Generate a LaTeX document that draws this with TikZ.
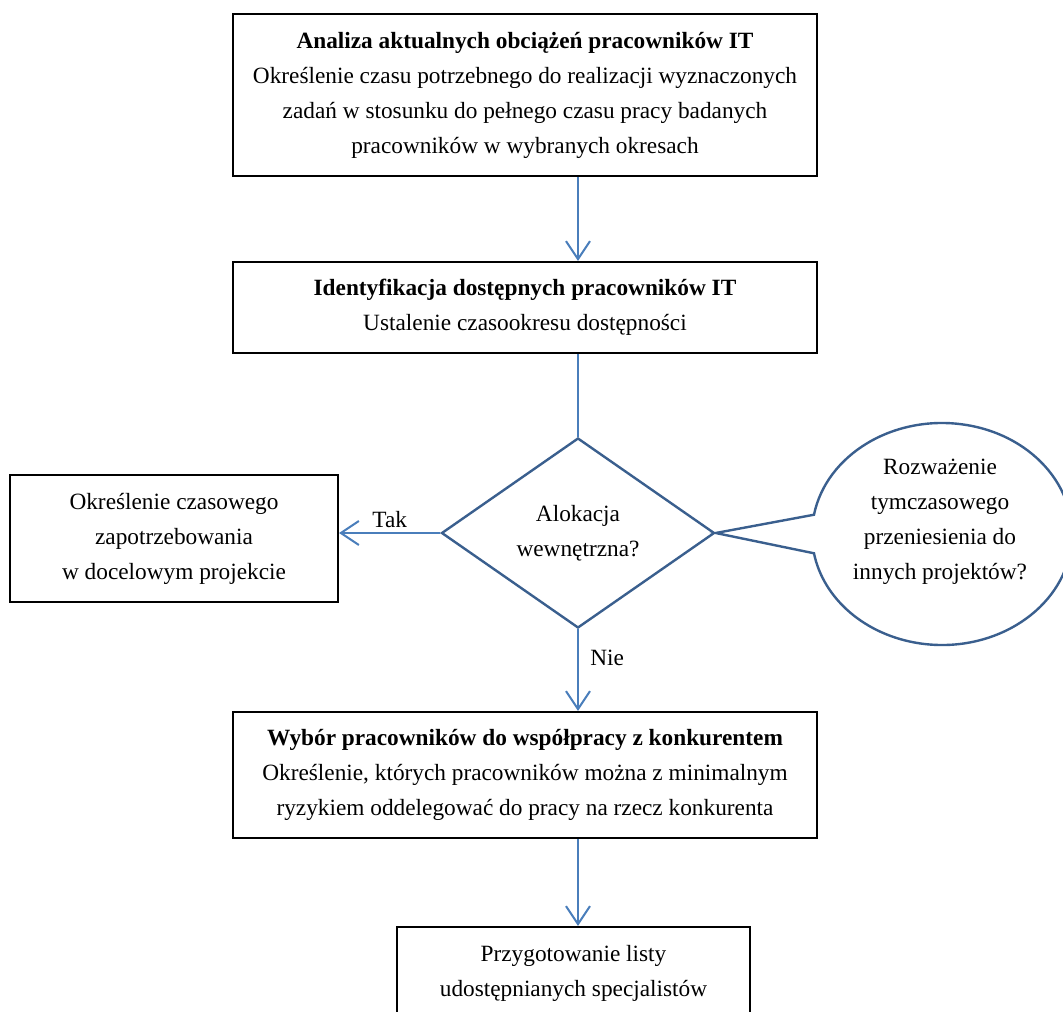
\documentclass[tikz,border=0pt]{standalone}
\usepackage{fontspec}
\setmainfont{Liberation Serif}
\usetikzlibrary{shapes.geometric,arrows.meta,calc}
\definecolor{flowarrow}{HTML}{4A7EBB}
\definecolor{shapeline}{HTML}{3A5F8E}
\begin{document}
\begin{tikzpicture}[x=1pt,y=1pt,
  every node/.style={font=\fontsize{23.3}{35}\selectfont},
  procbox/.style={draw=black,line width=2.2pt,fill=white,rectangle,align=center,inner sep=0pt},
  flow/.style={draw=flowarrow,line width=2pt,-{Straight Barb[length=18pt,width=24pt,line width=2pt]}},
  plainflow/.style={draw=flowarrow,line width=2pt},
  decision/.style={draw=shapeline,line width=2.4pt,diamond,align=center,inner sep=0pt,minimum width=273pt,minimum height=190pt},
  calloutline/.style={draw=shapeline,line width=2.4pt,fill=white,line join=miter}
]
\useasboundingbox (0,0) rectangle (1063,-1012);

% process boxes
\node[procbox,minimum width=584pt,minimum height=162pt] (analiza) at (525,-95)
  {\textbf{Analiza aktualnych obciążeń pracowników IT}\\
   Określenie czasu potrzebnego do realizacji wyznaczonych\\
   zadań w stosunku do pełnego czasu pracy badanych\\
   pracowników w wybranych okresach};
\node[procbox,minimum width=584pt,minimum height=91pt] (ident) at (525,-307.5)
  {\textbf{Identyfikacja dostępnych pracowników IT}\\
   Ustalenie czasookresu dostępności};
\node[decision] (alok) at (578,-533) {Alokacja\\wewnętrzna?};
\node[procbox,minimum width=328pt,minimum height=127pt] (zapotrz) at (174,-538.5)
  {Określenie czasowego\\zapotrzebowania\\w docelowym projekcie};
\node[procbox,minimum width=584pt,minimum height=126pt] (wybor) at (525,-775)
  {\textbf{Wybór pracowników do współpracy z konkurentem}\\
   Określenie, których pracowników można z minimalnym\\
   ryzykiem oddelegować do pracy na rzecz konkurenta};
\node[procbox,minimum width=353pt,minimum height=93pt] (lista) at (573.5,-973.5)
  {Przygotowanie listy\\udostępnianych specjalistów};

% callout bubble attached to the decision
\coordinate (bc) at (942,-534);
\draw[calloutline] (alok.east) -- ([shift={(170:130pt and 111pt)}]bc)
  arc[start angle=170,end angle=-170,x radius=130pt,y radius=111pt] -- cycle;
\node[align=center] (rozwaz) at (940,-522)
  {Rozważenie\\tymczasowego\\przeniesienia do\\innych projektów?};

% connectors
\draw[flow] (analiza.south -| alok) -- (ident.north -| alok);
\draw[plainflow] (ident.south -| alok) -- (alok.north);
\draw[flow] (alok.west) -- (alok.west -| zapotrz.east)
  node[pos=0.5,above=1pt] (tak) {Tak};
\draw[flow] (alok.south) -- (wybor.north -| alok)
  node[pos=0.35,right=8pt] (nie) {Nie};
\draw[flow] (wybor.south -| alok) -- (lista.north -| alok);
\end{tikzpicture}
\end{document}
